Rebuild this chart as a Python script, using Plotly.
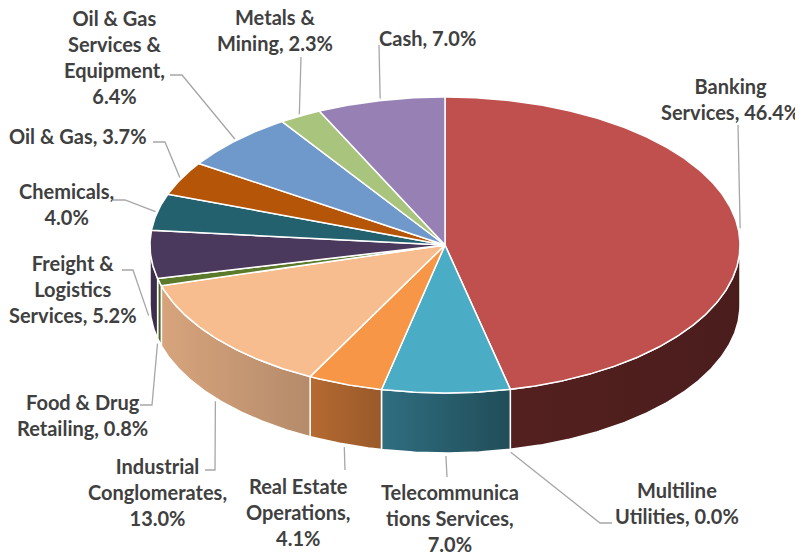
import numpy as np
import plotly.graph_objects as go

# ---------------- data ----------------
categories = ["Banking Services", "Multiline Utilities", "Telecommunications Services",
              "Real Estate Operations", "Industrial Conglomerates", "Food & Drug Retailing",
              "Freight & Logistics Services", "Chemicals", "Oil & Gas",
              "Oil & Gas Services & Equipment", "Metals & Mining", "Cash"]
values = [46.4, 0.0, 7.0, 4.1, 13.0, 0.8, 5.2, 4.0, 3.7, 6.4, 2.3, 7.0]
label_names = ["Banking<br>Services", "Multiline<br>Utilities", "Telecommunica<br>tions Services",
               "Real Estate<br>Operations", "Industrial<br>Conglomerates", "Food & Drug<br>Retailing",
               "Freight &<br>Logistics<br>Services", "Chemicals", "Oil & Gas",
               "Oil & Gas<br>Services &<br>Equipment", "Metals &<br>Mining", "Cash"]
# separator placed between name and value ("," + space or line break)
label_seps = [", ", ", ", ",<br>", ",<br>", ",<br>", ", ", ", ", ",<br>", ", ", ",<br>", ", ", ", "]

# ---------------- styles ----------------
top_colors = ["#C0504D", "#4F81BD", "#4BACC6", "#F79646", "#F7BD8E", "#5B7A2C",
              "#4A395C", "#24616F", "#B55507", "#7099CB", "#A9C47C", "#9680B4"]
wall_colors = [("#53201F", "#4A1D1C"), ("#2F4D70", "#2F4D70"), ("#2F6E80", "#214D59"),
               ("#B56A31", "#99592A"), ("#D7A47C", "#B58B6B"), ("#4F6228", "#4F6228"),
               ("#3F2F50", "#3A2B4A"), ("#1A4650", "#1A4650"), ("#7F3C05", "#7F3C05"),
               ("#4E6F96", "#4E6F96"), ("#76934A", "#76934A"), ("#5F4C7A", "#5F4C7A")]

CX, CY, RX, RY, DEPTH = 445, 245, 295, 148, 60
PAGE_OFFSET = 8  # default body margin of the html page

# label block centres and leader waypoints (layout only)
label_pos = [(730, 99), (677, 503), (450, 518), (298, 512), (157, 492), (82, 415),
             (73, 289), (66, 204), (78, 136), (114, 57), (275, 30), (427, 38)]
leader_way = [[(738, 125)], [(600, 523), (612, 523)], [(447, 477)], [(345, 470)],
              [(215, 470), (205, 470)], [(152, 405), (140, 405)], [(133, 270), (122, 270)],
              [(125, 200), (113, 200)], [(165, 142), (153, 142)], [(182, 75), (170, 75)],
              [(301, 57)], [(379, 45)]]


def pt(theta_deg, rx=RX, ry=RY, dy=0.0):
    t = np.radians(theta_deg)
    return CX + rx * np.sin(t), CY - ry * np.cos(t) + dy


total = sum(values)
bounds = np.concatenate([[0.0], np.cumsum(values)]) / total * 360.0

fig = go.Figure()

# side walls (front half only)
for i, v in enumerate(values):
    a0, a1 = bounds[i], bounds[i + 1]
    f0, f1 = max(a0, 90.0), min(a1, 270.0)
    if v <= 0 or f1 <= f0:
        continue
    th = np.linspace(f0, f1, max(int((f1 - f0) * 2), 4))
    xt, yt = pt(th)
    xb, yb = pt(th[::-1], dy=DEPTH)
    xs = np.concatenate([xt, xb, xt[:1]])
    ys = np.concatenate([yt, yb, yt[:1]])
    l, r = wall_colors[i]
    fig.add_trace(go.Scatter(
        x=xs, y=ys, mode="lines", fill="toself",
        fillgradient=dict(type="horizontal", colorscale=[[0, l], [1, r]]),
        line=dict(color="white", width=1.5), hoverinfo="skip"))

# top faces
for i, v in enumerate(values):
    if v <= 0:
        continue
    a0, a1 = bounds[i], bounds[i + 1]
    th = np.linspace(a0, a1, max(int((a1 - a0) * 2), 4))
    xa, ya = pt(th)
    xs = np.concatenate([[CX], xa, [CX]])
    ys = np.concatenate([[CY], ya, [CY]])
    fig.add_trace(go.Scatter(
        x=xs, y=ys, mode="lines", fill="toself", fillcolor=top_colors[i],
        line=dict(color="white", width=1.5), hoverinfo="skip"))

# leader lines and labels
for i, v in enumerate(values):
    mid = (bounds[i] + bounds[i + 1]) / 2.0
    front = np.cos(np.radians(mid)) < 0
    ax, ay = pt(mid, RX + 2, RY + 2, dy=(DEPTH + 1 if front else 0))
    px = [ax] + [p[0] for p in leader_way[i]]
    py = [ay] + [p[1] for p in leader_way[i]]
    fig.add_trace(go.Scatter(x=px, y=py, mode="lines",
                             line=dict(color="#A6A6A6", width=1.3), hoverinfo="skip"))
    txt = f"{label_names[i]}{label_seps[i]}{v:.1f}%"
    fig.add_annotation(x=label_pos[i][0], y=label_pos[i][1], text=txt, showarrow=False,
                       xanchor="center", yanchor="middle", align="center",
                       font=dict(family="Lato", size=20, color="#404040", weight="bold"))

fig.update_layout(
    width=803, height=557, margin=dict(l=0, r=0, t=0, b=0),
    paper_bgcolor="white", plot_bgcolor="white", showlegend=False,
    xaxis=dict(range=[PAGE_OFFSET, 803 + PAGE_OFFSET], visible=False, fixedrange=True),
    yaxis=dict(range=[557 + PAGE_OFFSET, PAGE_OFFSET], visible=False, fixedrange=True),
)

fig.write_html("out.html")
